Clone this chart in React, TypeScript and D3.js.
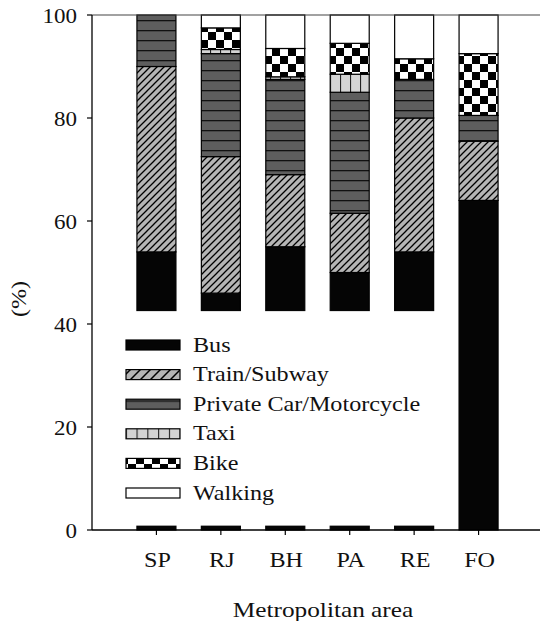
import * as d3 from "d3";

const categories = ["SP", "RJ", "BH", "PA", "RE", "FO"];
const modes = ["Bus", "Train/Subway", "Private Car/Motorcycle", "Taxi", "Bike", "Walking"];
const bus = [54, 46, 55, 50, 54, 64];
const train = [36, 26.5, 14, 11.5, 26, 11.5];
const car = [10, 20, 18.5, 23.5, 7.5, 5];
const taxi = [0, 0.8, 0.5, 3.5, 0, 0];
const bike = [0, 4.2, 5.5, 6, 4, 12];
const walking = [0, 2.5, 6.5, 5.5, 8.5, 7.5];
const yTicks = [0, 20, 40, 60, 80, 100];

const series = [bus, train, car, taxi, bike, walking];
const fills = ["#050505", "url(#train)", "url(#car)", "url(#taxi)", "url(#bike)", "#ffffff"];
const legendFills = ["#050505", "url(#trainL)", "url(#carL)", "url(#taxiL)", "url(#bike)", "#ffffff"];

const W = 540;
const H = 621;
const FONT = "'Liberation Serif', 'Times New Roman', serif";
const SX = 1.15; // text in the original is a bit wide

// stretched text helper
function T({ x, y, size, anchor = "start", children, rotate = 0 }: any) {
  return (
    <text
      transform={`translate(${x},${y}) rotate(${rotate}) scale(${SX},1)`}
      fontFamily={FONT}
      fontSize={size}
      textAnchor={anchor}
      fill="#111"
    >
      {children}
    </text>
  );
}

export default function App() {
  const x = d3.scaleLinear().domain([0, 7]).range([92, 543]);
  const y = d3.scaleLinear().domain([0, 100]).range([530, 15]);
  const barW = 39;

  const table = categories.map((c, i) => {
    const row: any = { cat: c };
    modes.forEach((m, k) => (row[m] = series[k][i]));
    return row;
  });
  const stacked = d3.stack().keys(modes)(table);

  const legendTop = y(42.5);
  const legendBottom = y(0.85);
  const legendRows = d3.scalePoint().domain(modes).range([345, 493]);

  return (
    <svg
      width={W}
      height={H}
      style={{ position: "absolute", left: 0, top: 0, background: "#fff" }}
    >
      <defs>
        <pattern id="train" width="7" height="7" patternUnits="userSpaceOnUse">
          <rect width="7" height="7" fill="#b5b5b5" />
          <path d="M-1,8 L8,-1 M-1,1 L1,-1 M6,8 L8,6" stroke="#000" strokeWidth="1.3" />
        </pattern>
        <pattern id="trainL" width="10" height="10" patternUnits="userSpaceOnUse">
          <rect width="10" height="10" fill="#b5b5b5" />
          <path d="M-1,11 L11,-1 M-1,1 L1,-1 M9,11 L11,9" stroke="#000" strokeWidth="1.5" />
        </pattern>
        <pattern id="car" width="10" height="10" patternUnits="userSpaceOnUse">
          <rect width="10" height="10" fill="#5e5e5e" />
          <line x1="0" x2="10" y1="0.5" y2="0.5" stroke="#111" strokeWidth="1.6" />
        </pattern>
        <pattern id="carL" width="10" height="11" patternUnits="userSpaceOnUse" y={-0.5}>
          <rect width="10" height="11" fill="#5e5e5e" />
          <line x1="0" x2="10" y1="5.5" y2="5.5" stroke="#111" strokeWidth="1.4" />
        </pattern>
        <pattern id="taxi" width="10" height="10" patternUnits="userSpaceOnUse">
          <rect width="10" height="10" fill="#d4d4d4" />
          <line x1="0.5" x2="0.5" y1="0" y2="10" stroke="#222" strokeWidth="1.2" />
        </pattern>
        <pattern id="taxiL" width="10.8" height="10" patternUnits="userSpaceOnUse" x={125.7}>
          <rect width="10.8" height="10" fill="#d4d4d4" />
          <line x1="0.5" x2="0.5" y1="0" y2="10" stroke="#222" strokeWidth="1.2" />
        </pattern>
        <pattern id="bike" width="16" height="16" patternUnits="userSpaceOnUse">
          <rect width="16" height="16" fill="#fff" />
          <rect width="8" height="8" fill="#000" />
          <rect x="8" y="8" width="8" height="8" fill="#000" />
        </pattern>
      </defs>

      {/* bars */}
      {stacked.map((layer, k) => (
        <g key={modes[k]}>
          {layer.map((d, i) =>
            d[1] - d[0] > 0 ? (
              <rect
                key={i}
                x={x(i + 1) - barW / 2}
                y={y(d[1])}
                width={barW}
                height={y(d[0]) - y(d[1])}
                fill={fills[k]}
                stroke="#000"
                strokeWidth={1.2}
              />
            ) : null
          )}
        </g>
      ))}

      {/* legend, drawn over the bars */}
      <rect x={x(0) + 1} y={legendTop} width={452 - x(0)} height={legendBottom - legendTop} fill="#fff" />
      {modes.map((m, k) => (
        <g key={m}>
          <rect
            x={126}
            y={legendRows(m)! - 5}
            width={54}
            height={10}
            fill={legendFills[k]}
            stroke="#000"
            strokeWidth={1.2}
          />
          <T x={193} y={legendRows(m)! + 6.5} size={21}>
            {m}
          </T>
        </g>
      ))}

      {/* frame */}
      <line x1={x(0)} x2={x(7)} y1={y(100)} y2={y(100)} stroke="#444" strokeWidth={1.2} />
      <line x1={x(0)} x2={x(7)} y1={y(0)} y2={y(0)} stroke="#000" strokeWidth={1.3} />
      <line x1={x(0)} x2={x(0)} y1={y(0)} y2={y(100)} stroke="#000" strokeWidth={1.3} />

      {/* y axis */}
      {yTicks.map((t) => (
        <g key={t}>
          <line x1={x(0) - 5} x2={x(0)} y1={y(t)} y2={y(t)} stroke="#000" strokeWidth={1.2} />
          <T x={77} y={y(t) + 7.5} size={20} anchor="end">
            {t}
          </T>
        </g>
      ))}
      <T x={26} y={299} size={21} anchor="middle" rotate={-90}>
        (%)
      </T>

      {/* x axis */}
      {categories.map((c, i) => (
        <g key={c}>
          <line x1={x(i + 1)} x2={x(i + 1)} y1={y(0)} y2={y(0) + 5} stroke="#000" strokeWidth={1.2} />
          <T x={x(i + 1) + 1} y={567} size={21} anchor="middle">
            {c}
          </T>
        </g>
      ))}
      <T x={323} y={617} size={22} anchor="middle">
        Metropolitan area
      </T>
    </svg>
  );
}
